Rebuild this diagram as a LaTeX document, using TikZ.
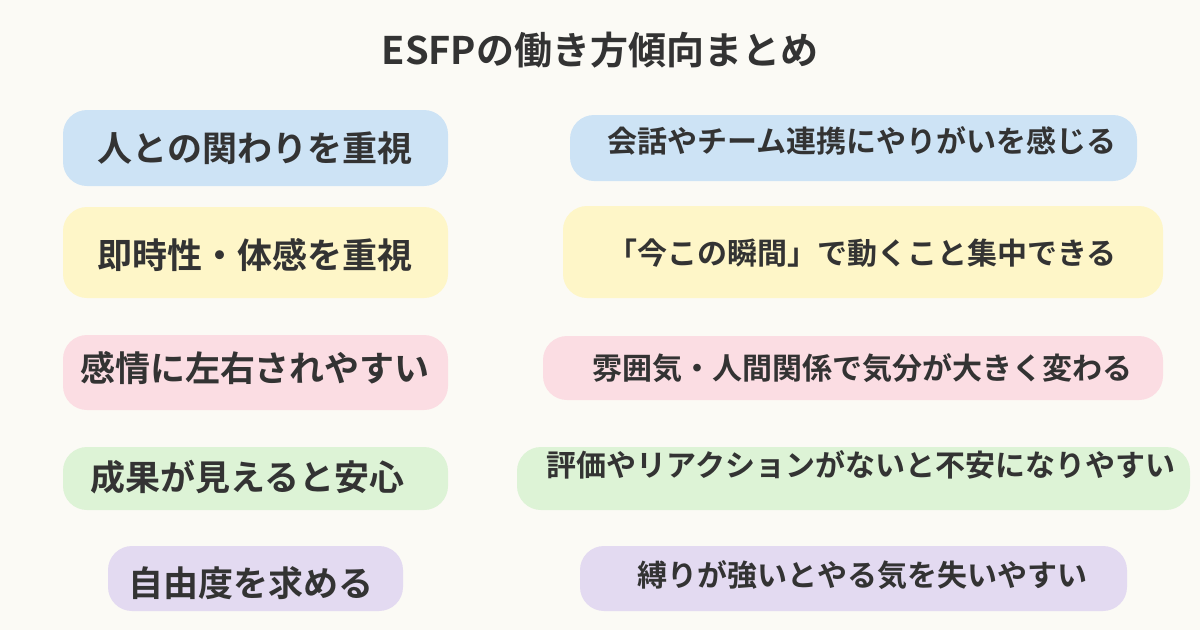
\documentclass[tikz,border=0pt]{standalone}
\usepackage{fontspec}
\setmainfont{Noto Sans CJK JP}[BoldFont={Noto Sans CJK JP Bold}]
\definecolor{bg}{HTML}{FBFAF5}
\definecolor{tx}{HTML}{333333}
\definecolor{cb}{HTML}{CDE3F5}
\definecolor{cy}{HTML}{FEF6C8}
\definecolor{cp}{HTML}{FBDDE3}
\definecolor{cg}{HTML}{DDF3D6}
\definecolor{cv}{HTML}{E3DAF1}
\tikzset{
 pill/.style={rounded corners=24pt,inner sep=0pt},
 lt/.style={font=\bfseries\fontsize{35}{40}\selectfont,text=tx,inner sep=0pt},
 rt/.style={font=\bfseries\fontsize{30}{36}\selectfont,text=tx,inner sep=0pt},
}
\begin{document}
\begin{tikzpicture}[x=1pt,y=-1pt]
\fill[bg] (0,0) rectangle (1200,630);
\useasboundingbox (0,0) rectangle (1200,630);
\node[font=\bfseries\fontsize{38}{44}\selectfont,text=tx] (title) at (600,50) {ESFPの働き方傾向まとめ};
% left
\fill[cb,pill] (63,110) rectangle (448,186);
\fill[cy,pill] (63,207) rectangle (448,298);
\fill[cp,pill] (63,335) rectangle (448,410);
\fill[cg,pill] (63,447) rectangle (448,510);
\fill[cv,pill] (108,546) rectangle (403,611);
\node[lt] (l1) at (255,148) {人との関わりを重視};
\node[lt] (l2) at (255,255) {即時性・体感を重視};
\node[lt] (l3) at (255,368) {感情に左右されやすい};
\node[lt,anchor=west] (l4) at (90,477) {成果が見えると安心};
\node[lt,anchor=west] (l5) at (128,583) {自由度を求める};
% right
\fill[cb,pill] (570,115) rectangle (1137,181);
\fill[cy,pill] (563,206) rectangle (1163,298);
\fill[cp,pill] (543,336) rectangle (1163,400);
\fill[cg,pill] (517,447) rectangle (1190,510);
\fill[cv,pill] (580,546) rectangle (1127,611);
\node[rt] (r1) at (862,141) {会話やチーム連携にやりがいを感じる};
\node[rt] (r2) at (862,253) {「今この瞬間」で動くこと集中できる};
\node[rt] (r3) at (862,368) {雰囲気・人間関係で気分が大きく変わる};
\node[rt] (r4) at (861,465) {評価やリアクションがないと不安になりやすい};
\node[rt] (r5) at (862,575) {縛りが強いとやる気を失いやすい};
\end{tikzpicture}
\end{document}
